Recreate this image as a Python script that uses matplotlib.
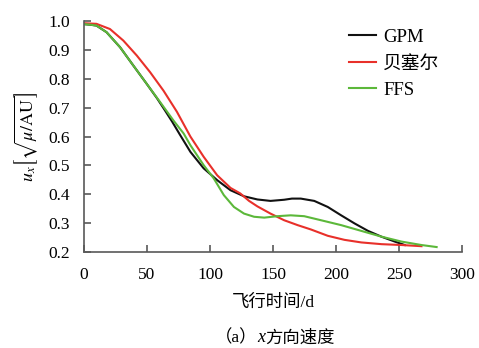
import matplotlib
matplotlib.use("Agg")
import matplotlib.pyplot as plt
from matplotlib.offsetbox import TextArea, HPacker, AnchoredOffsetbox

plt.rcParams['font.family'] = ['Liberation Serif', 'Noto Sans CJK SC']
plt.rcParams['mathtext.fontset'] = 'stix'

# Flight time (days) and x-velocity for each method
gpm_t = [0, 5, 10, 18, 28.7, 39.3, 50, 58, 64, 70, 76, 84.5, 95, 105.7, 116.3, 127,
         137.6, 148, 158.8, 165, 172, 182.7, 193.4, 204, 214.6, 225.3, 235.9,
         246.5, 254.4]
gpm_u = [0.99, 0.988, 0.985, 0.962, 0.910, 0.846, 0.782, 0.733, 0.693, 0.652, 0.608,
         0.547, 0.490, 0.449, 0.414, 0.393, 0.382, 0.377, 0.381, 0.385, 0.385, 0.377,
         0.356, 0.327, 0.299, 0.273, 0.253, 0.236, 0.224]

bez_t = [0, 10, 20.7, 31.3, 42, 52.6, 63.2, 73.8, 84.5, 95, 105.7, 116.3, 124,
         131, 137.6, 148, 158.8, 169.5, 180, 193.4, 206.6, 220, 236, 252, 267.7]
bez_u = [0.993, 0.991, 0.973, 0.933, 0.881, 0.823, 0.759, 0.686, 0.600, 0.530, 0.466,
         0.422, 0.403, 0.377, 0.358, 0.333, 0.310, 0.293, 0.278, 0.256, 0.242, 0.233,
         0.227, 0.224, 0.220]

ffs_t = [0, 5, 10, 18, 28.7, 39.3, 50, 60.6, 71.2, 79.1, 84.5, 95, 103, 111, 119,
         127, 135, 143, 153.5, 164, 174.7, 188, 204, 220, 236, 251.8, 267.7, 279.7]
ffs_u = [0.99, 0.988, 0.985, 0.962, 0.910, 0.846, 0.782, 0.719, 0.655, 0.611, 0.570,
         0.501, 0.455, 0.397, 0.356, 0.333, 0.322, 0.319, 0.324, 0.327, 0.324, 0.310,
         0.293, 0.273, 0.253, 0.236, 0.224, 0.217]

fig = plt.figure(figsize=(4.79, 3.48), dpi=100)
ax = fig.add_axes([0.175, 0.276, 0.79, 0.663])

ax.plot(gpm_t, gpm_u, color='#111111', lw=1.5, label='GPM')
ax.plot(bez_t, bez_u, color='#e8302a', lw=1.5, label='贝塞尔')
ax.plot(ffs_t, ffs_u, color='#5cb83a', lw=1.5, label='FFS')

ax.set_xlim(0, 300)
ax.set_ylim(0.2, 1.0)
ax.set_xticks(range(0, 301, 50))
ax.set_yticks([0.2, 0.3, 0.4, 0.5, 0.6, 0.7, 0.8, 0.9, 1.0])
ax.set_yticklabels(['0.2', '0.3', '0.4', '0.5', '0.6', '0.7', '0.8', '0.9', '1.0'])

for side in ('top', 'right'):
    ax.spines[side].set_visible(False)
for side in ('left', 'bottom'):
    ax.spines[side].set_color('#595959')
    ax.spines[side].set_linewidth(1.2)
ax.tick_params(direction='in', length=5, width=1.2, color='#595959',
               labelsize=12.5)
ax.tick_params(axis='x', pad=11)
ax.tick_params(axis='y', pad=10)

ax.set_xlabel('飞行时间/d', fontsize=12.5, labelpad=8)
ax.set_ylabel(r'$u_x\left[\sqrt{\mu/\mathrm{AU}}\right]$', fontsize=13, labelpad=6)

ax.legend(loc='upper right', frameon=False, fontsize=13.5, handlelength=1.45,
          handletextpad=0.4, labelspacing=0.5, bbox_to_anchor=(0.985, 1.04))

# Caption: "（a）x方向速度" with an italic x, centred under the plot area
parts = [
    TextArea('（a）', textprops=dict(fontsize=12.5)),
    TextArea('x', textprops=dict(fontsize=13, style='italic')),
    TextArea('方向速度', textprops=dict(fontsize=12.5)),
]
caption = HPacker(children=parts, align='baseline', pad=0, sep=0)
anchored = AnchoredOffsetbox(loc='lower center', child=caption, frameon=False,
                             bbox_to_anchor=(0.574, 0.005),
                             bbox_transform=fig.transFigure, borderpad=0, pad=0)
fig.add_artist(anchored)

fig.savefig('out.png', dpi=100)
